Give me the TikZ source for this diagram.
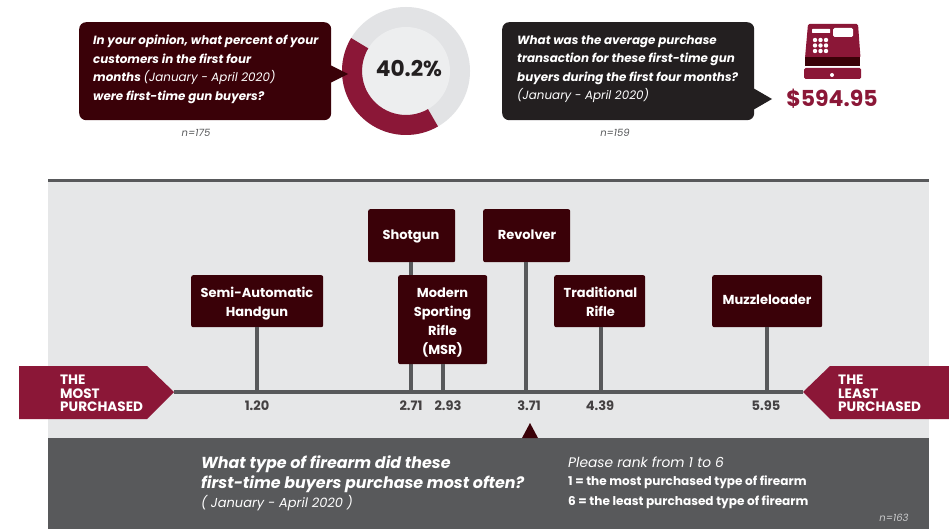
\documentclass[tikz,border=0pt]{standalone}
\usepackage{fontspec}
\setmainfont{Poppins}
\definecolor{maroon}{HTML}{3A0108}
\definecolor{wine}{HTML}{8B1737}
\definecolor{coal}{HTML}{231F20}
\definecolor{slate}{HTML}{58595B}
\definecolor{panel}{HTML}{E6E7E8}
\definecolor{ringgray}{HTML}{E2E3E5}
\tikzset{
  x=1pt,y=1pt,
  callout/.style={draw=none,inner sep=0pt,rounded corners=7pt,anchor=north west},
  calltext/.style={text=white,align=left,anchor=west,inner sep=0pt,font=\fontsize{11.9}{18.5}\selectfont\bfseries\itshape},
  tagbox/.style={fill=maroon,rounded corners=2pt,inner sep=0pt,anchor=north west},
  tagword/.style={inner sep=0pt,text=white,align=center,font=\fontsize{13}{19}\selectfont\bfseries},
  stem/.style={draw=slate,line width=3.4pt},
  val/.style={inner sep=0pt,text=coal!85,font=\fontsize{13}{15}\selectfont\bfseries},
  tagtext/.style={inner sep=0pt,anchor=west,align=left,text=white,font=\fontsize{13.6}{13.4}\selectfont\bfseries},
  nlab/.style={inner sep=0pt,text=slate,font=\fontsize{10}{11}\selectfont\itshape},
  bline/.style={inner sep=0pt,anchor=west,text=white},
}
\begin{document}
\begin{tikzpicture}
\useasboundingbox (0,0) rectangle (949,-529);
\fill[white] (0,0) rectangle (949,-529);
% donut
\fill[ringgray] (406,-71) circle (64);
\fill[panel!70!white] (406,-71) circle (44);
\fill[wine] (406,-71) ++(149:64) arc (149:300:64) -- ++(120:20) arc (300:149:44) -- cycle;
\node[inner sep=0pt,text=coal,font=\fontsize{21.7}{24}\selectfont\bfseries] (pct) at (409,-69) {40.2\%};
% callout 1
\node[callout,fill=maroon,minimum width=252,minimum height=98] (q1) at (79,-22) {};
\fill[maroon] (330,-65) -- (348,-74) -- (330,-83) -- cycle;
\node[calltext] (q1t) at (93,-69.5) {In your opinion, what percent of your\\customers in the first four\\months \mdseries(January - April 2020)\\were first-time gun buyers?};
\node[nlab] (n1) at (196,-133) {n=175};
% callout 2
\node[callout,fill=coal,minimum width=252,minimum height=98] (q2) at (502,-22) {};
\fill[coal] (753,-88) -- (772,-99) -- (753,-110) -- cycle;
\node[calltext] (q2t) at (517,-69) {What was the average purchase\\transaction for these first-time gun\\buyers during the first four months?\\\mdseries(January - April 2020)};
\node[nlab] (n2) at (615,-133) {n=159};
% register
\fill[wine,rounded corners=1.5pt] (808,-24) -- (858,-24) -- (860.5,-58) -- (805,-58) -- cycle;
\fill[white,rounded corners=.5pt] (812,-29) rectangle (830,-33);
\fill[white,rounded corners=1.5pt] (833,-28) rectangle (853,-37);
\foreach \i in {0,1,2} \foreach \j in {0,1,2} \fill[white] (815+\i*5.5,-40-\j*5.5) circle (2.2);
\fill[maroon] (805,-57) rectangle (860,-66);
\fill[wine,rounded corners=1.5pt] (804,-68) rectangle (861,-79);
\fill[white] (832,-75) circle (2);
\node[inner sep=0pt,text=wine,font=\fontsize{22}{25}\selectfont\bfseries] (price) at (832,-99) {\$594.95};
% panels
\fill[panel] (48,-180) rectangle (929,-438);
\fill[slate] (48,-179) rectangle (929,-182.5);
\node[fill=slate,inner sep=0pt,anchor=north west,minimum width=881,minimum height=91] (qpanel) at (48,-438) {};
% axis
\coordinate (tipL) at (174,-392);
\coordinate (tipR) at (803,-392);
\draw[stem] (tipL) -- (tipR);
\foreach \nm/\x in {a/257,b/411,c/443,d/526,e/601,f/767} \coordinate (ax\nm) at (\x,-392);
% boxes
\node[tagbox,minimum width=132,minimum height=52] (semi) at (191,-275) {};
\node[tagbox,minimum width=87,minimum height=53] (shot) at (368,-209) {};
\node[tagbox,minimum width=87,minimum height=53] (rev) at (483,-209) {};
\node[tagbox,minimum width=91,minimum height=52] (trad) at (554,-275) {};
\node[tagbox,minimum width=110,minimum height=52] (muzz) at (712,-275) {};
\draw[stem] (semi.south -| axa) -- (axa);
\draw[stem] (shot.south -| axb) -- (axb);
\draw[stem] (rev.south -| axd) -- (axd);
\draw[stem] (trad.south -| axe) -- (axe);
\draw[stem] (muzz.south -| axf) -- (axf);
\node[tagbox,minimum width=89,minimum height=89] (msr) at (398,-275) {};
\draw[stem] (msr.south -| axc) -- (axc);
\node[tagword] (semit) at (257,-303.5) {Semi-Automatic\\Handgun};
\node[tagword] (shott) at (411,-236) {Shotgun};
\node[tagword] (revt) at (527,-235) {Revolver};
\node[tagword] (msrt) at (442.5,-322.5) {Modern\\Sporting\\Rifle\\(MSR)};
\node[tagword] (tradt) at (600.5,-301.5) {Traditional\\Rifle};
\node[tagword] (muzzt) at (767,-300) {Muzzleloader};
% values
\node[val] (v1) at (257,-406) {1.20};
\node[val] (v2) at (411,-406) {2.71};
\node[val] (v3) at (448,-406) {2.93};
\node[val] (v4) at (529,-406) {3.71};
\node[val] (v5) at (600,-406) {4.39};
\node[val] (v6) at (766,-406) {5.95};
% flags
\fill[wine] (19,-366) -- (147,-366) -- (tipL) -- (147,-419) -- (19,-419) -- cycle;
\fill[wine] (949,-366) -- (830,-366) -- (tipR) -- (830,-419) -- (949,-419) -- cycle;
\node[tagtext] (most) at (60,-393.5) {THE\\MOST\\PURCHASED};
\node[tagtext] (least) at (838,-393.5) {THE\\LEAST\\PURCHASED};
% pointer
\fill[maroon] (522,-438) -- (530,-423) -- (538,-438) -- cycle;
% bottom text
\node[bline,align=left,font=\fontsize{15.9}{19.5}\selectfont\bfseries\itshape] (bq) at (201,-474) {What type of firearm did these\\first-time buyers purchase most often?};
\node[bline,font=\fontsize{13}{16}\selectfont\itshape] (bd) at (201,-503.5) {( January - April 2020 )};
\node[bline,font=\fontsize{13.8}{16}\selectfont\itshape] (br) at (568,-462.5) {Please rank from 1 to 6};
\node[bline,font=\fontsize{12.1}{14}\selectfont\bfseries] (b1) at (568,-482.5) {1 = the most purchased type of firearm};
\node[bline,font=\fontsize{12.1}{14}\selectfont\bfseries] (b6) at (568,-502) {6 = the least purchased type of firearm};
\node[nlab,text=panel!80!slate] (n3) at (894,-518) {n=163};
\end{tikzpicture}
\end{document}
